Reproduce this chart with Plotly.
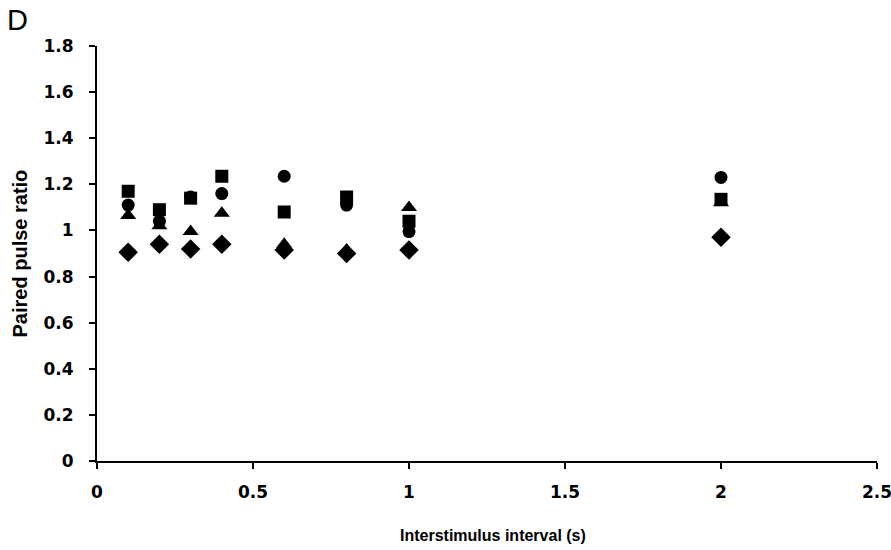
import plotly.graph_objects as go

intervals = [0.1, 0.2, 0.3, 0.4, 0.6, 0.8, 1.0, 2.0]
series_square = [1.17, 1.09, 1.14, 1.235, 1.08, 1.145, 1.04, 1.135]
series_circle = [1.11, 1.04, 1.145, 1.16, 1.235, 1.11, 0.995, 1.23]
series_triangle = [1.065, 1.02, 0.995, 1.075, 0.94, 0.915, 1.10, 1.12]
series_diamond = [0.905, 0.94, 0.92, 0.94, 0.915, 0.90, 0.915, 0.97]

x_ticks = [0, 0.5, 1, 1.5, 2, 2.5]
y_ticks = [0, 0.2, 0.4, 0.6, 0.8, 1, 1.2, 1.4, 1.6, 1.8]
x_tick_text = ["0", "0.5", "1", "1.5", "2", "2.5"]
y_tick_text = ["0", "0.2", "0.4", "0.6", "0.8", "1", "1.2", "1.4", "1.6", "1.8"]

fig = go.Figure()
for vals, sym, sz in [
    (series_triangle, "triangle-up", 14),
    (series_diamond, "diamond", 15),
    (series_circle, "circle", 13),
    (series_square, "square", 13),
]:
    fig.add_trace(go.Scatter(x=intervals, y=vals, mode="markers",
                             marker=dict(symbol=sym, size=sz, color="black", line=dict(width=0)),
                             showlegend=False, cliponaxis=False))

tick_font = dict(size=17, family="DejaVu Sans", color="black", weight="bold")
xtitle_font = dict(size=16, family="Liberation Sans, Arial", color="black")
ytitle_font = dict(size=20, family="Liberation Sans, Arial", color="black")

fig.update_layout(
    width=891, height=550,
    margin=dict(l=97, r=14, t=46, b=89),
    paper_bgcolor="white", plot_bgcolor="white",
    xaxis=dict(range=[0, 2.5], tickvals=x_ticks, ticktext=x_tick_text, automargin=False,
               showgrid=False, zeroline=False, showline=True, linecolor="black", linewidth=2,
               ticks="outside", ticklen=6, tickwidth=2, tickcolor="black",
               tickfont=tick_font, ticklabelstandoff=9, ticklabeloverflow="allow"),
    yaxis=dict(range=[0, 1.8], tickvals=y_ticks, ticktext=y_tick_text, automargin=False,
               showgrid=False, zeroline=False, showline=True, linecolor="black", linewidth=2,
               ticks="outside", ticklen=6, tickwidth=2, tickcolor="black",
               tickfont=tick_font, ticklabelstandoff=12, ticklabeloverflow="allow"),
    annotations=[
        dict(text="D", x=0, y=1, xref="paper", yref="paper", xanchor="left", yanchor="top",
             showarrow=False, font=dict(size=29, family="Liberation Sans, Arial", color="black"),
             xshift=-92, yshift=44),
        dict(text="<b>Interstimulus interval (s)</b>", x=0.5077, y=0, xref="paper", yref="paper",
             xanchor="center", yanchor="middle", showarrow=False, font=xtitle_font, yshift=-74),
        dict(text="<b>Paired pulse ratio</b>", x=0, y=0.5, xref="paper", yref="paper",
             xanchor="center", yanchor="middle", showarrow=False, font=ytitle_font,
             textangle=-90, xshift=-78),
    ],
)
fig.write_html("out.html")
